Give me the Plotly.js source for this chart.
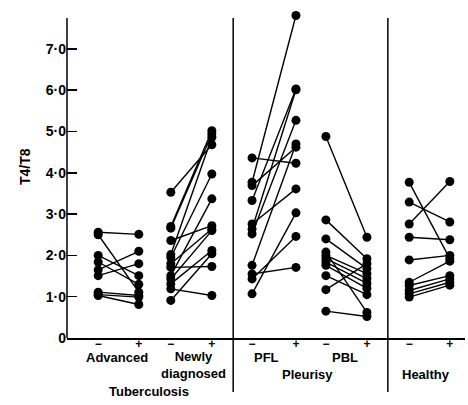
<!DOCTYPE html>
<html><head><meta charset="utf-8">
<script src="https://cdn.plot.ly/plotly-3.0.1.min.js"></script>
<style>html,body{margin:0;padding:0;background:#fff}#chart{width:468px;height:405px}</style>
</head><body><div id="chart"></div>
<script>
// Group names
const groups = ["Advanced", "Newly diagnosed", "PFL", "PBL", "Healthy"];
// T4/T8 ratios: before (−) and after (+), paired by index
const advMinus = [2.56, 2.50, 2.00, 1.84, 1.65, 1.51, 1.11, 1.05, 1.03];
const advPlus  = [2.51, 1.11, 1.51, 1.30, 2.10, 1.80, 1.03, 0.99, 0.81];
const newMinus = [3.53, 2.70, 2.66, 2.02, 2.36, 1.95, 1.51, 1.80, 1.71, 1.43, 1.31, 0.91, 1.19];
const newPlus  = [4.68, 5.02, 4.94, 4.86, 2.72, 3.97, 3.37, 2.64, 1.73, 2.60, 2.12, 2.04, 1.03];
const pflMinus = [4.36, 3.77, 3.69, 3.33, 2.76, 2.64, 2.52, 1.76, 1.55, 1.43, 1.07];
const pflPlus  = [4.23, 7.81, 4.62, 6.03, 3.61, 6.01, 5.27, 4.70, 1.71, 2.46, 3.03];
const pblMinus = [4.88, 2.86, 2.40, 2.08, 2.00, 1.92, 1.84, 1.76, 1.51, 1.17, 0.65];
const pblPlus  = [2.44, 1.92, 1.68, 0.62, 1.56, 1.44, 1.32, 1.20, 1.05, 1.80, 0.52];
const heaMinus = [3.77, 3.29, 2.76, 2.44, 1.89, 1.35, 1.27, 1.15, 1.07, 0.99];
const heaPlus  = [1.92, 2.81, 3.79, 2.38, 2.00, 1.86, 1.51, 1.43, 1.35, 1.28];
// Tick labels
const yTickVals = [0, 1, 2, 3, 4, 5, 6, 7];
const yTickText = ["0", "1·0", "2·0", "3·0", "4·0", "5·0", "6·0", "7·0"];
const condLabels = ["−", "+"];

// layout positions (x axis units)
const minusPos = [0.76, 2.53, 4.51, 6.31, 8.34];
const plusPos  = [1.75, 3.53, 5.58, 7.31, 9.33];
const pairs = [[advMinus, advPlus], [newMinus, newPlus], [pflMinus, pflPlus], [pblMinus, pblPlus], [heaMinus, heaPlus]];

const traces = pairs.map((p, g) => {
  const xs = [], ys = [];
  p[0].forEach((v, i) => {
    xs.push(minusPos[g], plusPos[g], null);
    ys.push(v, p[1][i], null);
  });
  return {
    type: "scatter", mode: "lines+markers", x: xs, y: ys, name: groups[g],
    line: {color: "#000", width: 1.4},
    marker: {color: "#000", size: 9},
    cliponaxis: false, showlegend: false, hoverinfo: "skip"
  };
});

const tickvalsX = [], ticktextX = [];
minusPos.forEach((m, g) => { tickvalsX.push(m, plusPos[g]); ticktextX.push(condLabels[0], condLabels[1]); });

const F = "Liberation Sans, Arial, sans-serif";
const TOP = 10, BOT = 338, H = BOT - TOP;
const lab = (text, x, ypx, extra) => Object.assign({
  text, x, xref: "x", y: (BOT - ypx) / H, yref: "paper",
  showarrow: false, xanchor: "center", yanchor: "middle",
  font: {family: F, size: 13, color: "#000", weight: "bold"}
}, extra || {});

const layout = {
  width: 468, height: 405,
  margin: {l: 67, r: 3, t: TOP, b: 405 - BOT},
  paper_bgcolor: "#fff", plot_bgcolor: "#fff",
  xaxis: {
    range: [0, 9.7], showgrid: false, zeroline: false,
    showline: true, linecolor: "#000", linewidth: 1.5,
    tickmode: "array", tickvals: tickvalsX, ticktext: ticktextX, ticks: "",
    ticklabelstandoff: -6,
    tickfont: {family: F, size: 12, color: "#000", weight: "bold"}, fixedrange: true
  },
  yaxis: {
    range: [0, H / 41.3], showgrid: false, zeroline: false,
    showline: false,
    tickmode: "array", tickvals: yTickVals, ticktext: yTickText,
    ticks: "inside", ticklen: 10, tickwidth: 1.5, tickcolor: "#000",
    tickfont: {family: F, size: 14, color: "#000", weight: "bold"}, fixedrange: true
  },
  shapes: [4.05, 7.82].map(x => ({
    type: "line", xref: "x", yref: "paper", x0: x, x1: x, y0: (BOT - 392) / H, y1: (BOT - 18) / H,
    line: {color: "#000", width: 1.5}
  })).concat([{
    type: "line", xref: "paper", yref: "paper", x0: 0, x1: 0, y0: 0, y1: (BOT - 18) / H,
    line: {color: "#000", width: 1.5}
  }]),
  annotations: [
    lab(groups[0], 1.23, 357),
    lab("Newly<br>diagnosed", 3.08, 365),
    lab("Tuberculosis", 2.0, 391),
    lab(groups[2], 4.87, 357),
    lab(groups[3], 6.78, 357),
    lab("Pleurisy", 5.85, 374),
    lab(groups[4], 8.75, 374),
    {text: "T4/T8", xref: "paper", x: (25 - 67) / 398, yref: "paper", y: (BOT - 167) / H,
     textangle: -90, showarrow: false, xanchor: "center", yanchor: "middle",
     font: {family: F, size: 14, color: "#000", weight: "bold"}}
  ]
};

Plotly.newPlot("chart", traces, layout, {displayModeBar: false, staticPlot: true});
</script>
</body></html>
